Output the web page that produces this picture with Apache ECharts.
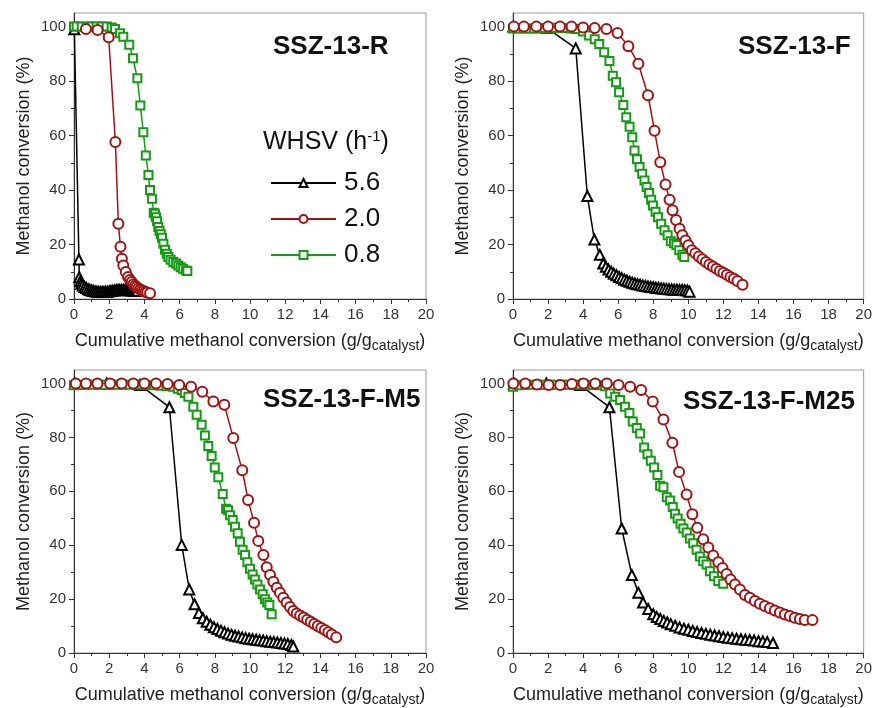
<!DOCTYPE html>
<html><head><meta charset="utf-8">
<script src="https://cdn.jsdelivr.net/npm/echarts@6/dist/echarts.min.js"></script>
<style>html,body{margin:0;padding:0;background:#fff}#c{width:875px;height:708px}</style>
</head><body><div id="c"></div>
<script>
// ---------- data ----------
const PANEL_TITLES = ['SSZ-13-R', 'SSZ-13-F', 'SSZ-13-F-M5', 'SSZ-13-F-M25'];
const WHSV = ['5.6', '2.0', '0.8'];
const Y_TICKS = [0, 20, 40, 60, 80, 100];
const Y_MINOR = [10, 30, 50, 70, 90];
const X_MIN = 0, X_MAX = 20, X_STEP = 2;

// SSZ-13-R
const R_56 = [[0.02,99],[0.28,14.5],[0.3,8],[0.36,6.5],[0.42,5.6],[0.5,5],[0.6,4.4],[0.7,4],[0.8,3.6],[0.9,3.3],[1.0,3.1],[1.1,2.9],[1.2,2.8],[1.3,2.7],[1.4,2.6],[1.5,2.6],[1.6,2.6],[1.7,2.6],[1.8,2.7],[1.9,2.7],[2.0,2.8],[2.1,2.9],[2.2,3.0],[2.3,3.1],[2.4,3.2],[2.5,3.3],[2.6,3.3],[2.7,3.3],[2.8,3.3],[2.9,3.3],[3.0,3.2],[3.1,3.2],[3.2,3.2],[3.3,3.1],[3.4,3.1],[3.5,3.0],[3.6,3.0]];
const R_20 = [[0.68,99.1],[1.34,98.8],[1.97,96.1],[2.35,57.6],[2.52,27.6],[2.64,19.2],[2.72,14.8],[2.8,12.3],[2.94,9.9],[3.07,8.1],[3.18,7.0],[3.28,6.2],[3.38,5.4],[3.47,4.9],[3.56,4.4],[3.66,3.9],[3.76,3.5],[3.86,3.2],[3.96,2.9],[4.06,2.6],[4.16,2.4],[4.32,2.1]];
const R_08 = [[0,100],[0.15,100],[0.44,100],[0.72,100],[1.0,100],[1.29,100],[1.57,100],[1.86,100],[2.14,99.7],[2.33,99.1],[2.61,97.6],[2.8,96.3],[3.14,93.3],[3.35,88.4],[3.6,81],[3.77,71],[3.94,61.2],[4.08,52.7],[4.23,45.5],[4.32,40],[4.43,36.8],[4.53,31.7],[4.6,31.3],[4.66,30],[4.72,28.5],[4.79,26.4],[4.86,25],[4.93,23.8],[5.0,22.5],[5.08,20.3],[5.17,18.1],[5.27,16.6],[5.36,15.4],[5.49,14.4],[5.64,13.6],[5.8,13],[5.93,12.3],[6.06,11.7],[6.2,11.1],[6.36,10.5],[6.44,10.3]];

// SSZ-13-F
const F_56 = [[0.02,100],[1.91,99.6],[3.58,92],[4.24,37.8],[4.64,21.8],[4.95,16.2],[5.15,13],[5.3,11.8],[5.45,10.8],[5.6,10],[5.75,9.3],[5.9,8.7],[6.05,8.1],[6.2,7.6],[6.35,7.1],[6.5,6.7],[6.65,6.3],[6.8,6.0],[6.95,5.7],[7.1,5.4],[7.25,5.2],[7.4,5.0],[7.55,4.8],[7.7,4.6],[7.85,4.4],[8.0,4.3],[8.15,4.1],[8.3,4.0],[8.45,3.9],[8.6,3.8],[8.75,3.7],[8.9,3.6],[9.05,3.5],[9.2,3.4],[9.35,3.4],[9.5,3.3],[9.65,3.3],[9.8,3.2],[9.95,3.1],[10.07,2.7]];
const F_20 = [[0.05,100],[0.62,100],[1.33,100],[2.0,100],[2.68,100],[3.34,100],[4.0,99.7],[4.66,99.5],[5.33,99.1],[5.96,97.7],[6.58,92.8],[7.15,86.4],[7.7,74.8],[8.07,61.8],[8.4,50.2],[8.7,42],[8.93,36.4],[9.1,32.6],[9.3,29],[9.5,25.8],[9.66,23.4],[9.84,21.5],[10.0,19.7],[10.2,17.9],[10.4,16.8],[10.6,15.6],[10.8,14.6],[11.0,13.6],[11.2,12.7],[11.4,11.9],[11.6,11.1],[11.8,10.3],[12.0,9.6],[12.2,8.9],[12.4,8.1],[12.6,7.4],[12.8,6.6],[13.09,5.2]];
const F_08 = [[0,99.3],[0.3,99.3],[0.6,99.3],[0.9,99.3],[1.2,99.3],[1.5,99.3],[1.8,99.5],[2.1,99.6],[2.4,99.6],[2.7,99.6],[3.0,99.5],[3.3,99.3],[3.55,99.1],[4.0,98.2],[4.34,96.7],[4.66,95.4],[4.92,93.6],[5.2,90.6],[5.5,87.4],[5.69,82],[5.88,79.6],[6.05,75.9],[6.29,71.2],[6.46,66.7],[6.65,63.2],[6.8,59.4],[6.93,54.5],[7.07,51.3],[7.22,48.5],[7.37,46],[7.5,43.5],[7.62,41.1],[7.76,38.9],[7.88,36.4],[7.98,34.3],[8.13,32],[8.27,30],[8.45,27.6],[8.64,25.2],[8.82,23.4],[9.0,21.2],[9.18,20.5],[9.32,19.8],[9.48,17.9],[9.66,16.2],[9.77,15.4]];

// SSZ-13-F-M5
const M5_56 = [[0.05,100],[1.86,100],[3.75,99.4],[5.42,91.2],[6.12,40.1],[6.55,23.6],[6.85,18.1],[7.1,14.8],[7.32,12.9],[7.54,11.6],[7.75,10.5],[7.95,9.6],[8.15,8.9],[8.35,8.3],[8.55,7.7],[8.75,7.2],[8.95,6.8],[9.15,6.4],[9.35,6.1],[9.55,5.8],[9.75,5.5],[9.95,5.3],[10.15,5.1],[10.35,4.9],[10.55,4.7],[10.75,4.6],[10.95,4.4],[11.15,4.2],[11.35,4.1],[11.55,3.9],[11.75,3.7],[11.95,3.5],[12.15,3.3],[12.35,3.0],[12.46,2.4]];
const M5_20 = [[0.1,100],[0.68,100],[1.33,100],[2.05,100],[2.71,100],[3.37,100],[4.0,100],[4.66,100],[5.32,99.8],[5.98,99.4],[6.65,98.8],[7.29,96.9],[7.92,93.3],[8.54,92.1],[9.05,79.8],[9.56,67.8],[9.89,56.8],[10.23,48.3],[10.47,41.6],[10.76,36.4],[10.95,31.8],[11.14,28.9],[11.33,26.4],[11.52,24.2],[11.7,22.4],[11.89,20.5],[12.08,18.7],[12.27,17.1],[12.46,15.6],[12.65,14.7],[12.85,13.9],[13.05,13.2],[13.25,12.3],[13.45,11.6],[13.65,10.8],[13.85,10.0],[14.05,9.3],[14.25,8.5],[14.45,7.7],[14.65,6.9],[14.9,5.8]];
const M5_08 = [[0,99.3],[0.35,99.4],[0.7,99.5],[1.05,99.5],[1.4,99.5],[1.75,99.5],[2.1,99.5],[2.45,99.5],[2.8,99.5],[3.15,99.5],[3.5,99.5],[3.85,99.5],[4.2,99.4],[4.55,99.3],[4.9,99.2],[5.25,99.0],[5.64,98.8],[5.9,98.0],[6.12,97.6],[6.3,96.5],[6.5,95.1],[6.78,91.4],[6.97,88.4],[7.25,84.7],[7.44,80.7],[7.63,76.8],[7.82,73.1],[8.0,68.8],[8.2,65.2],[8.45,59],[8.64,53.5],[8.75,53],[8.86,51.1],[9.02,49.3],[9.15,46.8],[9.3,44.4],[9.43,41.3],[9.58,38.3],[9.72,36.4],[9.85,33.7],[10.0,31.3],[10.15,29.1],[10.28,27.3],[10.42,25.4],[10.57,23.6],[10.72,21.8],[10.85,19.9],[10.98,18.7],[11.1,17.8],[11.23,14.4]];

// SSZ-13-F-M25
const M25_56 = [[0.05,100],[1.9,100],[3.83,99.4],[5.5,91.2],[6.2,46.2],[6.78,28.9],[7.15,22.4],[7.42,18.7],[7.71,16.3],[8.0,14.4],[8.2,13.4],[8.4,12.6],[8.6,11.9],[8.8,11.3],[9.0,10.7],[9.25,10.1],[9.5,9.5],[9.75,9.0],[10.0,8.6],[10.25,8.2],[10.5,7.8],[10.75,7.4],[11.0,7.1],[11.25,6.8],[11.5,6.5],[11.75,6.2],[12.0,5.9],[12.25,5.7],[12.5,5.5],[12.75,5.3],[13.0,5.1],[13.25,4.9],[13.5,4.8],[13.75,4.6],[14.0,4.4],[14.25,4.3],[14.5,4.1],[14.83,3.7]];
const M25_20 = [[0.02,100],[0.7,100],[1.37,99.6],[2.03,99.4],[2.69,99.4],[3.36,99.8],[4.02,100],[4.69,100],[5.35,100],[6.02,99.4],[6.68,98.8],[7.31,97.6],[7.97,93.3],[8.58,86.6],[9.09,78],[9.47,67.2],[9.9,58.8],[10.23,51.5],[10.51,46.5],[10.85,42.2],[11.14,39.1],[11.42,36.2],[11.71,33.7],[11.95,31.5],[12.18,29.3],[12.41,27.3],[12.66,25.4],[12.94,23.6],[13.23,21.5],[13.51,20.5],[13.8,19.3],[14.08,18.3],[14.36,17.4],[14.65,16.6],[14.93,15.8],[15.22,15.0],[15.5,14.3],[15.79,13.7],[16.07,13.1],[16.36,12.6],[16.64,12.2],[17.08,12.2]];
const M25_08 = [[0,98.8],[0.35,99.3],[0.7,99.5],[1.05,99.5],[1.4,99.5],[1.75,99.5],[2.1,99.5],[2.45,99.5],[2.8,99.5],[3.15,99.5],[3.5,99.5],[3.85,99.5],[4.2,99.5],[4.55,99.4],[4.9,99.3],[5.25,99.0],[5.54,96.3],[5.83,95.1],[6.11,93.9],[6.39,91.4],[6.64,89],[6.83,85.9],[7.06,83.5],[7.25,81.4],[7.48,76.2],[7.67,73.7],[7.86,71.3],[8.05,68.8],[8.24,66],[8.39,62.1],[8.58,61.5],[8.77,57.8],[8.96,56.6],[9.11,54.2],[9.24,51.7],[9.39,49.9],[9.56,48],[9.72,46.2],[9.91,44.7],[10.09,42.5],[10.28,40.7],[10.47,38.3],[10.66,35.8],[10.85,34],[11.04,32.8],[11.23,30.3],[11.46,28.5],[11.71,26.7],[11.99,25.7]];

const PANEL_DATA = [
  {s56: R_56, s20: R_20, s08: R_08},
  {s56: F_56, s20: F_20, s08: F_08},
  {s56: M5_56, s20: M5_20, s08: M5_08},
  {s56: M25_56, s20: M25_20, s08: M25_08}
];

// ---------- layout / style ----------
const FONT = '"Liberation Sans", Arial, sans-serif';
const GRIDS = [
  {left: 74, top: 13, width: 352, height: 286},
  {left: 513, top: 13, width: 352, height: 286},
  {left: 74, top: 370, width: 352, height: 286},
  {left: 513, top: 370, width: 351, height: 286}
];
const TITLE_POS = [[273, 47], [738, 47], [263, 400], [683, 402]];
const COLORS = {k: '#000000', r: '#9e1414', g: '#169a16'};

const grid = [], xAxis = [], yAxis = [], series = [];
GRIDS.forEach((g, i) => {
  grid.push(Object.assign({show: true, borderColor: '#9a9a9a', borderWidth: 1, backgroundColor: 'transparent'}, g));
  xAxis.push({
    type: 'value', gridIndex: i, min: X_MIN, max: X_MAX, interval: X_STEP,
    axisLine: {show: true, lineStyle: {color: '#333', width: 1}},
    axisTick: {show: true, inside: false, length: 5, lineStyle: {color: '#333'}},
    minorTick: {show: true, splitNumber: 2, length: 3, lineStyle: {color: '#333'}},
    splitLine: {show: false},
    axisLabel: {fontSize: 15, color: '#333', margin: 8, fontFamily: FONT},
    name: 'Cumulative methanol conversion (g/g{s|catalyst})',
    nameLocation: 'middle', nameGap: 31,
    nameTextStyle: {fontSize: 18, color: '#222', fontFamily: FONT,
      rich: {s: {fontSize: 14, fontFamily: FONT, color: '#222', padding: [9, 0, 0, 0]}}}
  });
  yAxis.push({
    type: 'value', gridIndex: i, min: 0, max: 105,
    axisLine: {show: true, lineStyle: {color: '#333', width: 1}},
    axisTick: {show: true, inside: false, length: 5, customValues: Y_TICKS, lineStyle: {color: '#333'}},
    axisLabel: {fontSize: 15, color: '#333', margin: 8, fontFamily: FONT, customValues: Y_TICKS},
    splitLine: {show: false},
    name: 'Methanol conversion (%)', nameLocation: 'middle', nameRotate: 90, nameGap: 41,
    nameTextStyle: {fontSize: 18, color: '#222', fontFamily: FONT}
  });
  yAxis.push({
    type: 'value', gridIndex: i, min: 0, max: 105, position: 'left',
    axisLine: {show: false},
    axisTick: {show: true, inside: false, length: 3, customValues: Y_MINOR, lineStyle: {color: '#333'}},
    axisLabel: {show: false},
    splitLine: {show: false}
  });
  const d = PANEL_DATA[i];
  const common = {type: 'line', xAxisIndex: i, yAxisIndex: i * 2, showAllSymbol: true, animation: false};
  series.push(Object.assign({}, common, {
    name: WHSV[0], data: d.s56, symbol: 'emptyTriangle', symbolSize: 10, z: 3,
    lineStyle: {color: COLORS.k, width: 1.5}, itemStyle: {color: COLORS.k, borderWidth: 1.7}
  }));
  series.push(Object.assign({}, common, {
    name: WHSV[2], data: d.s08, symbol: 'emptyRect', symbolSize: 8, z: 4,
    lineStyle: {color: COLORS.g, width: 1.5}, itemStyle: {color: COLORS.g, borderWidth: 1.7}
  }));
  series.push(Object.assign({}, common, {
    name: WHSV[1], data: d.s20, symbol: 'emptyCircle', symbolSize: 10, z: 5,
    lineStyle: {color: COLORS.r, width: 1.5}, itemStyle: {color: COLORS.r, borderWidth: 1.7}
  }));
});

const graphic = PANEL_TITLES.map((t, i) => ({
  type: 'text', x: TITLE_POS[i][0], y: TITLE_POS[i][1], silent: true,
  style: {text: t, fontSize: 26, fontWeight: 'bold', fontFamily: FONT, fill: '#111', verticalAlign: 'middle', align: 'left'}
}));
graphic.push({
  type: 'text', x: 263, y: 142, silent: true,
  style: {text: 'WHSV (h{sup|-1})', fontSize: 25, fontFamily: FONT, fill: '#111', verticalAlign: 'middle', align: 'left',
    rich: {sup: {fontSize: 15, fontFamily: FONT, fill: '#111', padding: [0, 0, 11, 0]}}}
});

const option = {
  animation: false,
  backgroundColor: '#fff',
  textStyle: {fontFamily: FONT},
  grid, xAxis, yAxis, series, graphic,
  legend: {
    orient: 'vertical', left: 270, top: 168, padding: 0,
    itemWidth: 65, itemHeight: 10, itemGap: 6,
    data: WHSV,
    textStyle: {fontSize: 26, color: '#111', lineHeight: 30, fontFamily: FONT, padding: [0, 0, 0, 3]}
  }
};
const chart = echarts.init(document.getElementById('c'), null, {renderer: 'canvas'});
chart.setOption(option);
</script></body></html>
